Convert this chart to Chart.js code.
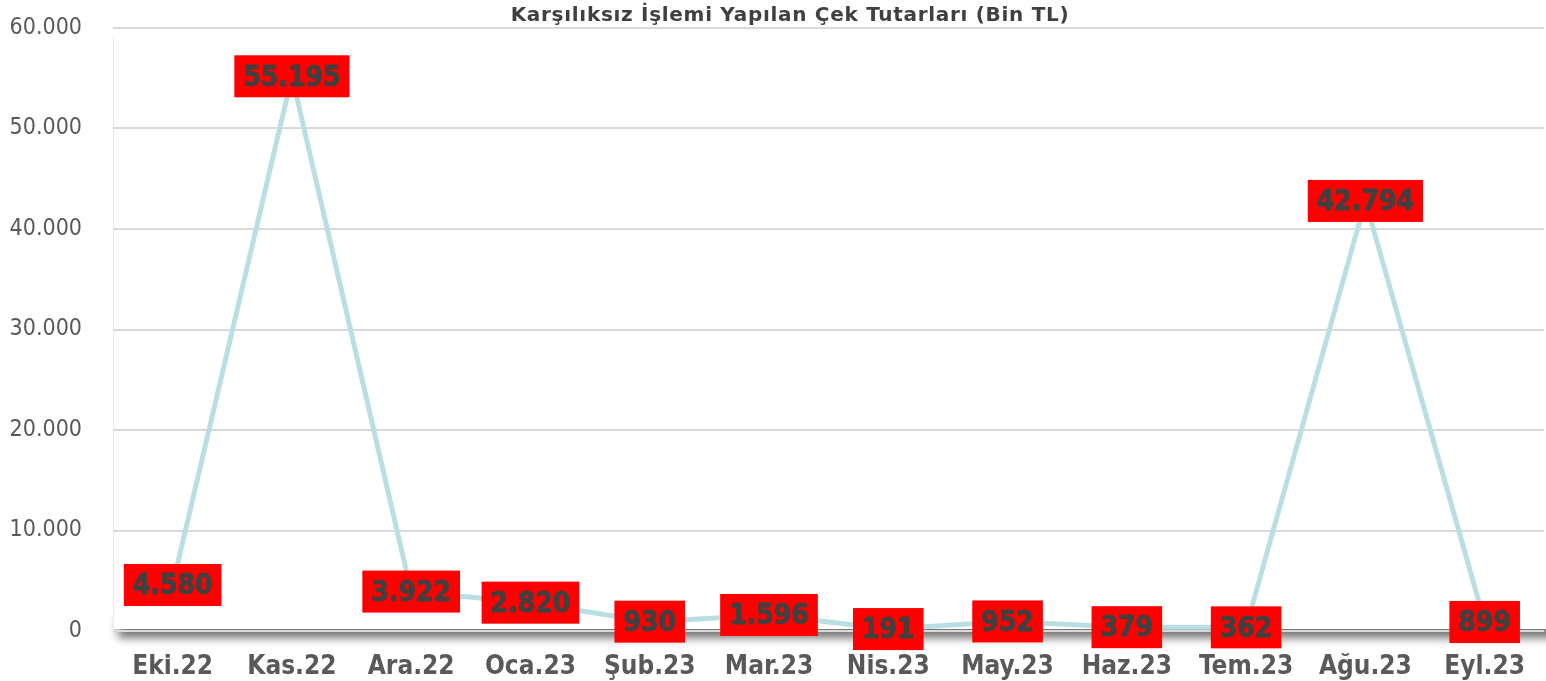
<!DOCTYPE html>
<html>
<head>
<meta charset="utf-8">
<script src="https://cdn.jsdelivr.net/npm/chart.js@4"></script>
<style>
html,body{margin:0;padding:0;background:#fff;}
#wrap{width:1546px;height:681px;position:relative;}
</style>
</head>
<body>
<div id="wrap"><canvas id="c"></canvas></div>
<script>
const categories = ["Eki.22","Kas.22","Ara.22","Oca.23","Şub.23","Mar.23","Nis.23","May.23","Haz.23","Tem.23","Ağu.23","Eyl.23"];
const amounts = [4580, 55195, 3922, 2820, 930, 1596, 191, 952, 379, 362, 42794, 899];
const yTicks = [0, 10000, 20000, 30000, 40000, 50000, 60000];
const titleText = "Karşılıksız İşlemi Yapılan Çek Tutarları (Bin TL)";

function fmt(v){
  return String(Math.round(v)).replace(/\B(?=(\d{3})+(?!\d))/g, ".");
}

const panel = {
  id: 'panel',
  beforeDraw(chart){
    const {ctx, chartArea: a} = chart;
    ctx.save();
    ctx.shadowColor = 'rgba(0,0,0,0.55)';
    ctx.shadowBlur = 10;
    ctx.shadowOffsetY = 9;
    ctx.shadowOffsetX = 0;
    ctx.fillStyle = '#ffffff';
    ctx.fillRect(a.left + 5, a.bottom - 22, a.right - a.left + 10, 20);
    ctx.restore();
    ctx.save();
    ctx.fillStyle = '#ffffff';
    ctx.fillRect(a.left, a.top, a.right - a.left, a.bottom - a.top - 2);
    ctx.strokeStyle = '#ececec';
    ctx.lineWidth = 1;
    ctx.beginPath();
    ctx.moveTo(a.left + 0.5, a.top + 8);
    ctx.lineTo(a.left + 0.5, a.bottom - 2);
    ctx.stroke();
    ctx.restore();
  }
};

const titleDraw = {
  id: 'titleDraw',
  afterDraw(chart){
    const {ctx} = chart;
    ctx.save();
    ctx.font = 'bold 20px "DejaVu Sans", sans-serif';
    if ('letterSpacing' in ctx) ctx.letterSpacing = '0.7px';
    ctx.fillStyle = '#404040';
    ctx.textAlign = 'center';
    ctx.textBaseline = 'middle';
    ctx.fillText(titleText, 790, 16);
    ctx.restore();
  }
};

const boxLabels = {
  id: 'boxLabels',
  afterDatasetsDraw(chart){
    const {ctx} = chart;
    const meta = chart.getDatasetMeta(0);
    const data = chart.data.datasets[0].data;
    ctx.save();
    ctx.font = 'bold 28px "DejaVu Sans Condensed", "DejaVu Sans", sans-serif';
    ctx.textAlign = 'center';
    ctx.textBaseline = 'middle';
    meta.data.forEach((pt, i) => {
      const txt = fmt(data[i]);
      const w = ctx.measureText(txt).width + 18;
      const h = 42;
      ctx.fillStyle = '#ff0000';
      ctx.fillRect(pt.x - w/2, pt.y - h/2, w, h);
      ctx.fillStyle = '#404040';
      ctx.strokeStyle = '#404040';
      ctx.lineWidth = 0.8;
      ctx.fillText(txt, pt.x, pt.y + 2);
      ctx.strokeText(txt, pt.x, pt.y + 2);
    });
    ctx.restore();
  }
};

new Chart(document.getElementById('c'), {
  type: 'line',
  data: {
    labels: categories,
    datasets: [{
      data: amounts,
      borderColor: '#b9dfe3',
      borderWidth: 5,
      pointRadius: 0,
      tension: 0,
      fill: false,
      clip: false
    }]
  },
  options: {
    responsive: true,
    maintainAspectRatio: false,
    animation: false,
    layout: { padding: { left: 10, right: 0, top: 28, bottom: 0 } },
    plugins: {
      legend: { display: false },
      tooltip: { enabled: false },
      title: { display: false }
    },
    scales: {
      x: {
        offset: true,
        afterFit(axis){ axis.height = 50; },
        grid: { display: false, drawTicks: false },
        border: { display: false },
        ticks: {
          color: '#595959',
          padding: 21,
          font: { family: '"DejaVu Sans Condensed", "DejaVu Sans", sans-serif', size: 26, weight: 'bold' },
          maxRotation: 0, autoSkip: false
        }
      },
      y: {
        min: 0, max: 60000,
        afterFit(axis){ axis.width = 103; },
        afterBuildTicks(axis){ axis.ticks = yTicks.map(v => ({value: v})); },
        grid: { color: '#d9d9d9', lineWidth: 2, drawTicks: true, tickLength: 17, tickColor: 'rgba(0,0,0,0)' },
        border: { display: false },
        ticks: {
          color: '#595959',
          padding: 14,
          font: { family: '"DejaVu Sans Condensed", "DejaVu Sans", sans-serif', size: 23 },
          callback: v => fmt(v)
        }
      }
    }
  },
  plugins: [panel, boxLabels, titleDraw]
});
</script>
</body>
</html>
